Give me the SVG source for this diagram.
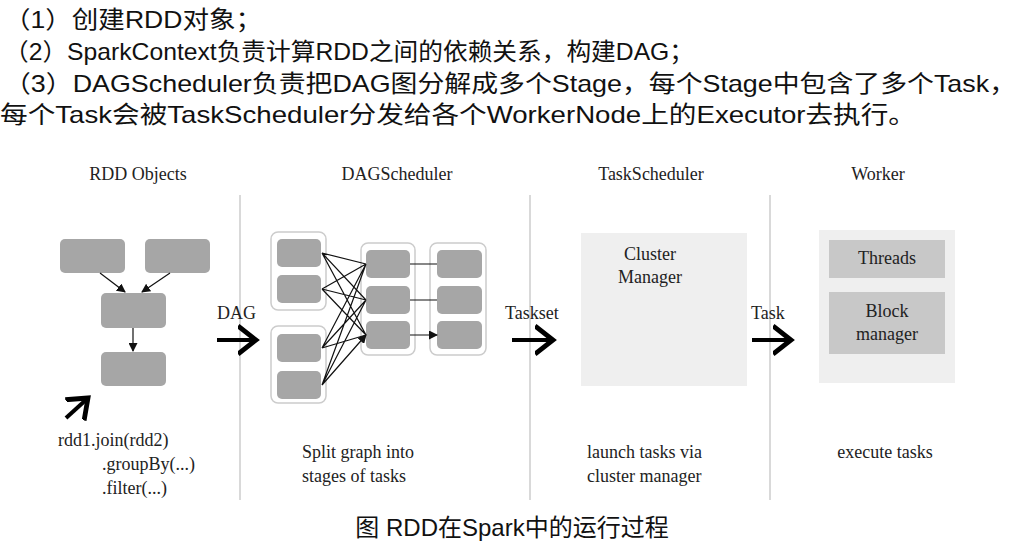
<svg xmlns="http://www.w3.org/2000/svg" width="1024" height="545" viewBox="0 0 1024 545">
<style>
.h{font-family:"Liberation Sans","Noto Sans CJK SC",sans-serif;font-size:24px;fill:#111}
.t{font-family:"Liberation Serif",serif;font-size:18px;fill:#222}
.b{fill:#a6a6a6;rx:5}
.o{fill:#fff;stroke:#ccc;stroke-width:1.5;rx:7}
.e{stroke:#111;stroke-width:1.2;fill:none;marker-end:url(#a)}
.big{stroke:#000;stroke-width:4;fill:none;marker-end:url(#ba)}
</style>
<defs>
<marker id="a" markerWidth="9" markerHeight="9" refX="8" refY="4.5" orient="auto" markerUnits="userSpaceOnUse"><path d="M0,0L9,4.5L0,9z" fill="#111"/></marker>
<marker id="ba" markerWidth="6" markerHeight="8" refX="4.5" refY="4" orient="auto" markerUnits="strokeWidth"><path d="M0,0.5L4.5,4L0,7.5" fill="none" stroke="#000" stroke-width="1.2"/></marker>
</defs>
<rect width="1024" height="545" fill="#fff"/>
<g id="header">
<text class="h" x="4" y="28" textLength="258" lengthAdjust="spacingAndGlyphs">（1）创建RDD对象；</text>
<text class="h" x="4" y="60" textLength="690" lengthAdjust="spacingAndGlyphs">（2）SparkContext负责计算RDD之间的依赖关系，构建DAG；</text>
<text class="h" x="4" y="92" textLength="1012" lengthAdjust="spacingAndGlyphs">（3）DAGScheduler负责把DAG图分解成多个Stage，每个Stage中包含了多个Task，</text>
<text class="h" x="0" y="123" textLength="916" lengthAdjust="spacingAndGlyphs">每个Task会被TaskScheduler分发给各个WorkerNode上的Executor去执行。</text>
</g>
<g id="dividers" stroke="#ccc" stroke-width="1.5">
<line x1="240" y1="195" x2="240" y2="500"/><line x1="530" y1="195" x2="530" y2="500"/><line x1="770" y1="195" x2="770" y2="500"/>
</g>
<g id="titles" class="t" text-anchor="middle">
<text x="138" y="180">RDD Objects</text><text x="397" y="180">DAGScheduler</text><text x="651" y="180">TaskScheduler</text><text x="878" y="180">Worker</text>
</g>
<g id="rdd">
<rect class="b" x="60" y="239" width="65" height="34"/><rect class="b" x="145" y="239" width="65" height="34"/>
<rect class="b" x="101" y="293" width="65" height="35"/><rect class="b" x="101" y="352" width="65" height="34"/>
<text class="t" x="58" y="446">rdd1.join(rdd2)</text><text class="t" x="102" y="470">.groupBy(...)</text><text class="t" x="102" y="494">.filter(...)</text>
</g>
<g id="dag">
<rect class="o" x="271" y="232" width="55" height="78"/><rect class="o" x="271" y="326" width="55" height="77"/>
<rect class="o" x="361" y="243" width="54" height="112"/><rect class="o" x="430" y="243" width="56" height="112"/>
<rect class="b" x="277" y="239" width="44" height="28"/><rect class="b" x="277" y="275" width="44" height="28"/>
<rect class="b" x="277" y="334" width="44" height="28"/><rect class="b" x="277" y="371" width="44" height="28"/>
<rect class="b" x="366" y="250" width="44" height="28"/><rect class="b" x="366" y="286" width="44" height="28"/><rect class="b" x="366" y="321" width="44" height="28"/>
<rect class="b" x="437" y="250" width="45" height="28"/><rect class="b" x="437" y="286" width="45" height="28"/><rect class="b" x="437" y="321" width="45" height="28"/>
<text class="t" x="302" y="458">Split graph into</text><text class="t" x="302" y="482">stages of tasks</text>
</g>
<g id="task">
<rect x="581" y="233" width="166" height="153" fill="#efefef"/>
<text class="t" x="650" y="260" text-anchor="middle">Cluster</text><text class="t" x="650" y="283" text-anchor="middle">Manager</text>
<text class="t" x="587" y="458">launch tasks via</text><text class="t" x="587" y="482">cluster manager</text>
</g>
<g id="worker">
<rect x="819" y="230" width="136" height="153" fill="#efefef"/>
<rect x="829" y="240" width="116" height="38" fill="#c8c8c8"/>
<rect x="829" y="292" width="116" height="62" fill="#c8c8c8"/>
<g class="t" text-anchor="middle"><text x="887" y="264">Threads</text><text x="887" y="317">Block</text><text x="887" y="340">manager</text><text x="885" y="458">execute tasks</text></g>
</g>
<g id="connectors">
<path class="e" d="M100,273L125,292"/><path class="e" d="M170,273L142,292"/><path class="e" d="M133,328L133,351"/>
<path class="e" d="M322,253L366,264M322,253L366,300M322,253L366,335M322,289L366,264M322,289L366,300M322,289L366,335M322,348L366,264M322,348L366,300M322,348L366,335M322,385L366,264M322,385L366,300M322,385L366,335"/>
<path class="e" d="M410,264L437,264M410,300L437,300M410,335L437,335"/>
<path class="big" d="M66,418L88,398"/>
<path class="big" d="M217,340L256,340"/><path class="big" d="M512,340L553,340"/><path class="big" d="M752,340L791,340"/>
<text class="t" x="217" y="319">DAG</text><text class="t" x="505" y="319">Taskset</text><text class="t" x="751" y="319">Task</text>
</g>
<text class="h" x="512" y="536" text-anchor="middle">图 RDD在Spark中的运行过程</text>
</svg>
